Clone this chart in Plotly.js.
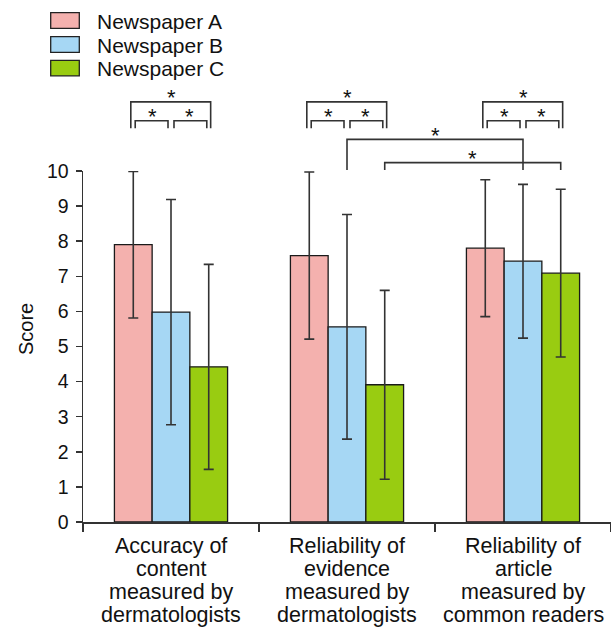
<!DOCTYPE html>
<html>
<head>
<meta charset="utf-8">
<script src="https://cdn.plot.ly/plotly-3.0.1.min.js"></script>
<style>
  html, body { margin: 0; padding: 0; background: #fff; }
  #chart { width: 611px; height: 628px; }
</style>
</head>
<body>
<div id="chart"></div>
<script>
// Mean scores with SD error bars for three newspapers
const categories = [
  "Accuracy of<br>content<br>measured by<br>dermatologists",
  "Reliability of<br>evidence<br>measured by<br>dermatologists",
  "Reliability of<br>article<br>measured by<br>common readers"
];
const seriesNames = ["Newspaper A", "Newspaper B", "Newspaper C"];
const meanA = [7.9, 7.59, 7.8];
const meanB = [5.98, 5.56, 7.43];
const meanC = [4.42, 3.91, 7.09];
const sdA = [2.09, 2.38, 1.95];
const sdB = [3.21, 3.2, 2.19];
const sdC = [2.92, 2.69, 2.39];
const yTicks = [0, 1, 2, 3, 4, 5, 6, 7, 8, 9, 10];

const colors = ["#F4B1AE", "#A6D7F4", "#99CC11"];
const lineCol = "#333333";
const FONT = "Liberation Sans, Arial, sans-serif";

// plot area geometry (px)
const W = 611, H = 628;
const M = { l: 83, r: 0, t: 171, b: 106 };
const plotW = W - M.l - M.r, plotH = H - M.t - M.b;
const px2paperX = px => (px - M.l) / plotW;
const px2paperY = py => (H - M.b - py) / plotH;
// y levels above the axis expressed in score units -> paper
const s2paper = s => s / 10;

const bargap = 0.357;
const barW = (1 - bargap) / 3;   // width of one bar in category units
const off = [-barW, 0, barW];    // bar centre offsets within a group

const means = [meanA, meanB, meanC];
const sds = [sdA, sdB, sdC];

const traces = means.map((m, i) => ({
  type: "bar",
  name: seriesNames[i],
  x: categories,
  y: m,
  marker: { color: colors[i], line: { color: "#1a1a1a", width: 1.3 } },
  error_y: { type: "data", array: sds[i], visible: true, color: lineCol, thickness: 1.6, width: 5 },
  showlegend: false,
  hoverinfo: "skip"
}));

const shapes = [];
const annotations = [];

// significance bracket: x in category units, y in score units above the axis
function bracket(xa, xb, top, legBottom) {
  const pts = [[xa, legBottom], [xa, top], [xb, top], [xb, legBottom]];
  shapes.push({
    type: "path", xref: "x", yref: "paper",
    path: pts.map((p, k) => (k ? "L" : "M") + p[0] + "," + s2paper(p[1])).join(" "),
    line: { color: lineCol, width: 1.6 }
  });
}
function star(x, s) {
  annotations.push({
    xref: "x", yref: "paper", x: x, y: s2paper(s),
    text: "*", showarrow: false, xanchor: "center", yanchor: "middle",
    font: { family: FONT, size: 22, color: "#111" }
  });
}

// within-group comparisons: A-B, B-C, A-C
const withinGroups = [0, 1, 2];
const outerTop = 11.97, innerTop = 11.43, legBot = 11.22;
withinGroups.forEach(g => {
  const a = g + off[0], b = g + off[1], c = g + off[2];
  bracket(a - 0.014, c + 0.011, outerTop, legBot);
  bracket(a + 0.011, b - 0.017, innerTop, legBot);
  bracket(b + 0.017, c - 0.011, innerTop, legBot);
  star((a + c) / 2, 12.10);
  star((a + b) / 2, 11.55);
  star((b + c) / 2, 11.55);
});

// between-group comparisons: B and C, second vs third category
bracket(1 + off[1], 2 + off[1], 10.90, 10.03);
star(1.5 + off[1], 11.02);
bracket(1 + off[2], 2 + off[2], 10.24, 10.03);
star(1.5 + off[2], 10.37);

// category labels, one annotation per line for tight line spacing
const labelBaselines = [553.3, 576.5, 599.7, 622.9];
categories.forEach((cat, i) => {
  cat.split("<br>").forEach((line, k) => {
    annotations.push({
      xref: "x", yref: "paper", x: i, y: px2paperY(labelBaselines[k] - 7.5),
      text: line, showarrow: false, xanchor: "center", yanchor: "middle",
      font: { family: FONT, size: 21.5, color: "#111" }
    });
  });
});

// legend swatches and labels
const legendTops = [12.7, 36.7, 60.3];
seriesNames.forEach((name, i) => {
  const y0 = legendTops[i];
  shapes.push({
    type: "rect", xref: "paper", yref: "paper",
    x0: px2paperX(50.7), x1: px2paperX(79.3),
    y0: px2paperY(y0), y1: px2paperY(y0 + 15.6),
    fillcolor: colors[i], line: { color: "#222", width: 1.3 }
  });
  annotations.push({
    xref: "paper", yref: "paper", x: px2paperX(95), y: px2paperY(y0 + 8.5),
    text: name, showarrow: false, xanchor: "left", yanchor: "middle",
    font: { family: FONT, size: 21, color: "#111" }
  });
});

// y-axis title
annotations.push({
  xref: "paper", yref: "paper", x: px2paperX(26), y: px2paperY(329),
  text: "Score", showarrow: false, textangle: -90,
  xanchor: "center", yanchor: "middle",
  font: { family: FONT, size: 20, color: "#111" }
});

const layout = {
  width: W, height: H,
  margin: M,
  paper_bgcolor: "#fff", plot_bgcolor: "#fff",
  font: { family: FONT, color: "#111", size: 19.5 },
  barmode: "group", bargap: bargap, bargroupgap: 0,
  showlegend: false,
  xaxis: {
    type: "category", range: [-0.5, 2.5],
    showline: true, linecolor: lineCol, linewidth: 1.5,
    ticks: "outside", tickson: "boundaries", ticklen: 8, tickwidth: 1.5, tickcolor: lineCol,
    showgrid: false, zeroline: false, showticklabels: false,
    fixedrange: true
  },
  yaxis: {
    range: [0, 10], tickvals: yTicks, ticktext: yTicks.map(String),
    showline: true, linecolor: lineCol, linewidth: 1.5,
    ticks: "outside", ticklen: 6, tickwidth: 1.5, tickcolor: lineCol,
    ticklabelstandoff: 3,
    showgrid: false, zeroline: false,
    tickfont: { family: FONT, size: 19.5, color: "#111" },
    fixedrange: true
  },
  shapes: shapes,
  annotations: annotations
};

Plotly.newPlot("chart", traces, layout, { staticPlot: true, displayModeBar: false });
</script>
</body>
</html>
